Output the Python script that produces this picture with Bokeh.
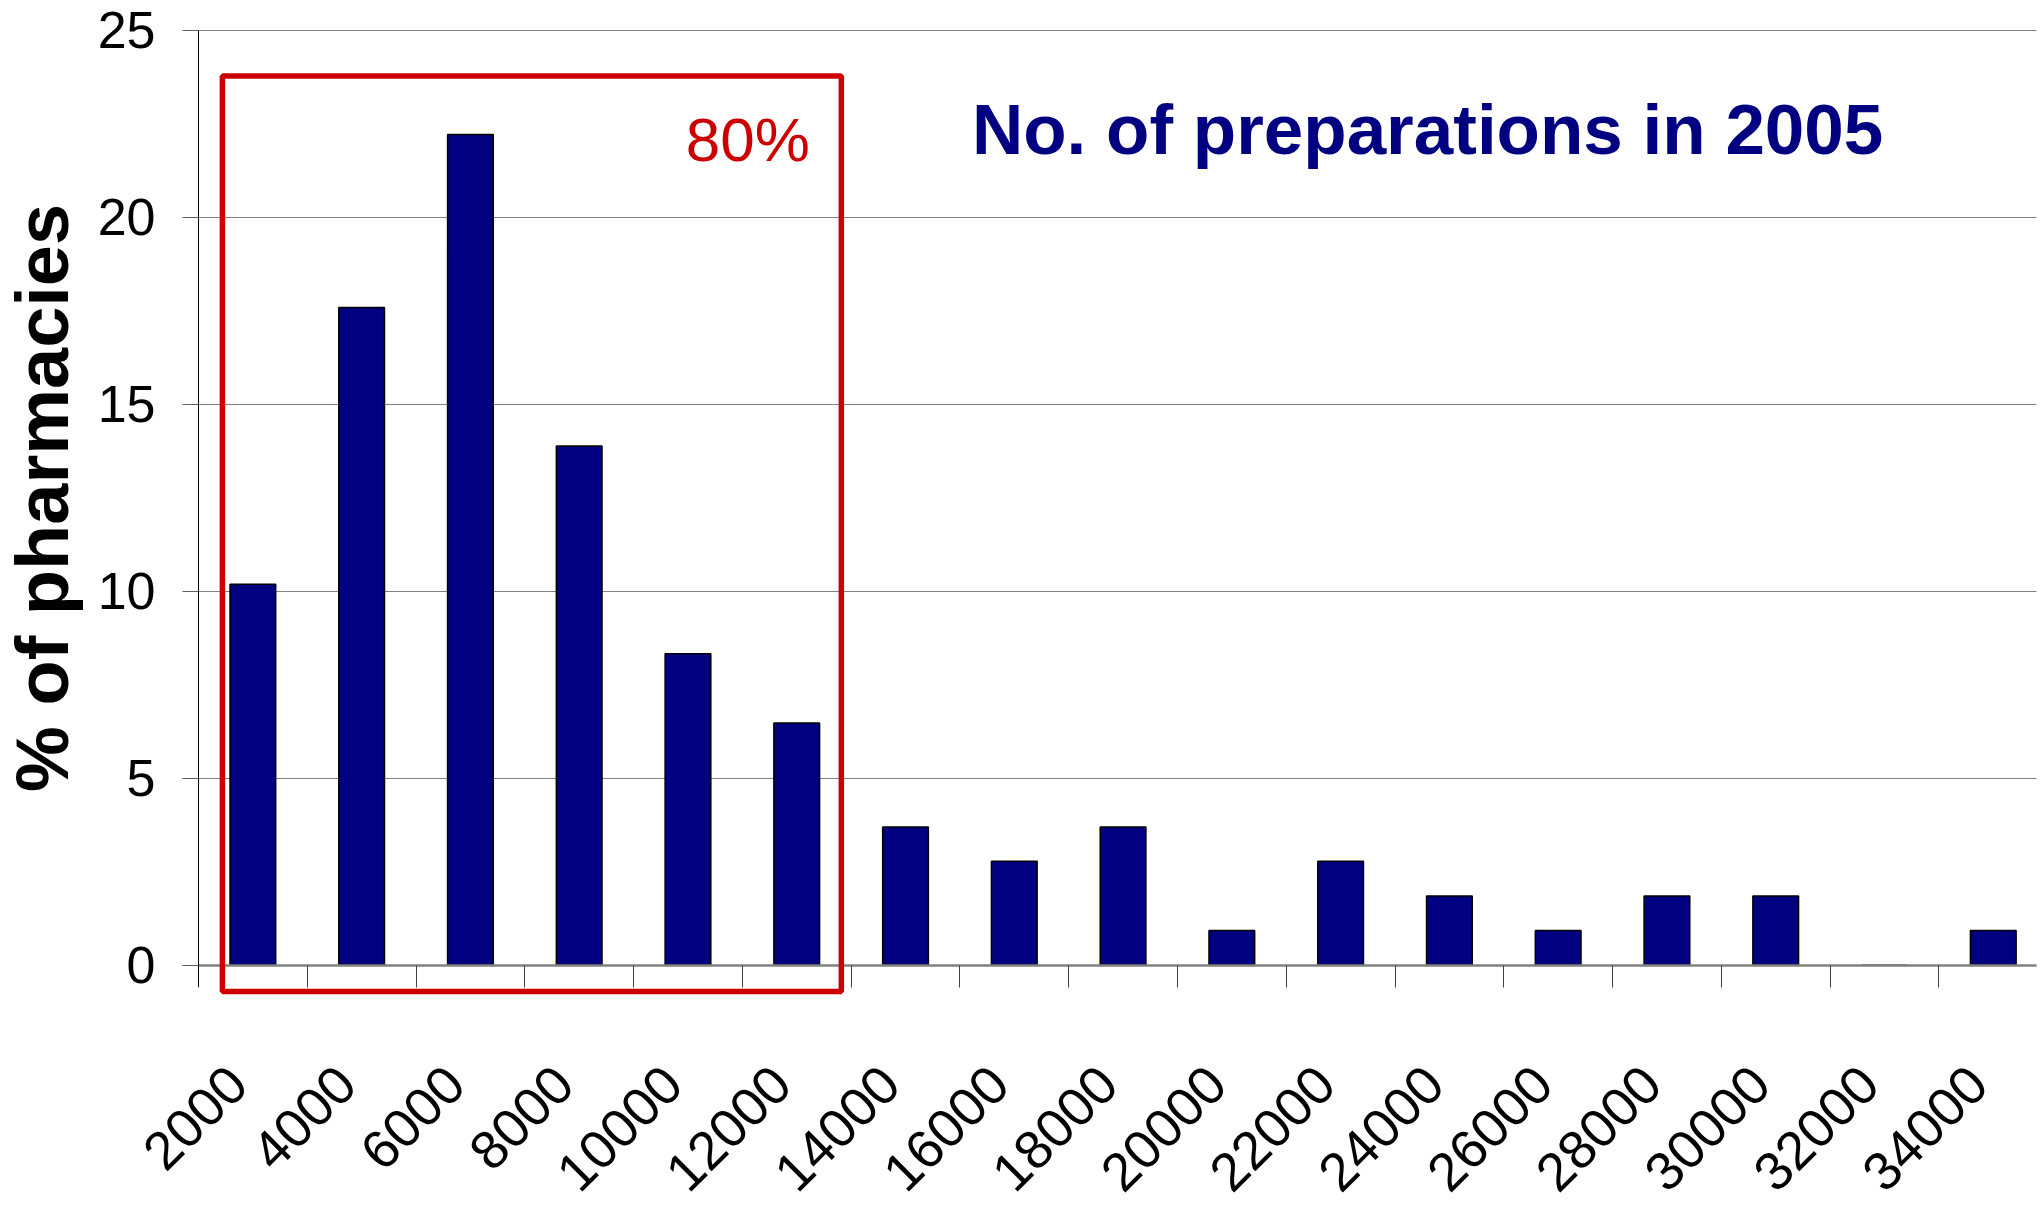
import math
from bokeh.plotting import figure
from bokeh.models import (Range1d, FixedTicker, BoxAnnotation, Label, ColumnDataSource,
                          CustomJSTickFormatter)
from bokeh.embed import file_html
from bokeh.resources import INLINE

# ---- data ----
categories = ["2000", "4000", "6000", "8000", "10000", "12000", "14000", "16000",
              "18000", "20000", "22000", "24000", "26000", "28000", "30000", "32000", "34000"]
pct_pharmacies = [10.19, 17.59, 22.22, 13.89, 8.33, 6.48, 3.70, 2.78,
                  3.70, 0.93, 2.78, 1.85, 0.93, 1.85, 1.85, 0.0, 0.93]
y_ticks = [0, 5, 10, 15, 20, 25]
highlight_first, highlight_last = 0, 5
highlight_text = "80%"
title_text = "No. of preparations in 2005"
y_label = "% of pharmacies"

idx = list(range(len(categories)))
src = ColumnDataSource(dict(x=idx, top=pct_pharmacies, cat=categories))

SANS = "Liberation Sans"
LABEL_SHIFT = 0.14  # rotated labels end slightly left of the category centre
X_LEFT = -0.5                       # left edge of the category area (y axis position)
X_RIGHT = len(categories) - 0.602   # right end of the drawn axis / grid lines

# the frame covers the whole canvas; both axes are pinned inside it
p = figure(width=2044, height=1211, output_backend="svg", toolbar_location=None,
           x_range=Range1d(X_LEFT - 1.82, len(categories) - 0.529),
           y_range=Range1d(-6.586, 25.802),
           min_border_left=0, min_border_right=0, min_border_top=0, min_border_bottom=0)
p.outline_line_color = None
p.background_fill_color = "white"

# horizontal grid lines, limited to the category area
grid = p.ygrid[0]
grid.ticker = FixedTicker(ticks=y_ticks)
grid.grid_line_color = "#808080"
grid.grid_line_width = 1
if hasattr(grid, "cross_bounds"):
    grid.cross_bounds = (X_LEFT, X_RIGHT)
else:
    grid.grid_line_color = None
    p.segment(x0=[X_LEFT] * len(y_ticks), x1=[X_RIGHT] * len(y_ticks), y0=y_ticks,
              y1=y_ticks, line_color="#808080", line_width=1)
p.xgrid.grid_line_color = None

p.vbar(x="x", top="top", bottom=0, width=0.42, source=src, fill_color="#000080",
       line_color="black", line_width=1.5)

# x axis at y = 0: labels near centres, tick marks at category boundaries
p.xaxis.fixed_location = 0
p.xaxis.bounds = (X_LEFT, X_RIGHT)
p.xaxis.ticker = FixedTicker(ticks=[i - LABEL_SHIFT for i in idx],
                             minor_ticks=[i - 0.5 for i in idx])
p.xaxis.formatter = CustomJSTickFormatter(args=dict(cats=categories),
                                          code="return cats[Math.round(tick + 0.2)];")
p.xaxis.major_label_orientation = math.pi / 4
p.xaxis.major_label_text_font = SANS
p.xaxis.major_label_text_font_size = "54px"
p.xaxis.major_label_text_color = "black"
p.xaxis.major_label_standoff = 88
p.xaxis.major_tick_out = 0
p.xaxis.major_tick_in = 0
p.xaxis.minor_tick_out = 22
p.xaxis.minor_tick_in = 0
p.xaxis.minor_tick_line_color = "#404040"
p.xaxis.axis_line_color = "#808080"
p.xaxis.axis_line_width = 2.5

# y axis at the left edge of the category area
p.yaxis.fixed_location = X_LEFT
p.yaxis.bounds = (-0.57, 25)
p.yaxis.ticker = FixedTicker(ticks=y_ticks)
p.yaxis.major_label_text_font = SANS
p.yaxis.major_label_text_font_size = "52px"
p.yaxis.major_label_text_color = "black"
p.yaxis.major_label_standoff = 27
p.yaxis.major_tick_out = 16
p.yaxis.major_tick_in = 0
p.yaxis.major_tick_line_color = "#606060"
p.yaxis.minor_tick_line_color = None
p.yaxis.axis_line_color = "black"
p.yaxis.axis_line_width = 1

# y axis title, centred on the 0..25 axis
p.add_layout(Label(x=X_LEFT - 1.434, y=(y_ticks[0] + y_ticks[-1]) / 2, text=y_label,
                   angle=math.pi / 2, text_font=SANS, text_font_style="bold",
                   text_font_size="74px", text_color="black",
                   text_align="center", text_baseline="middle"))

# highlight box around the first categories (80 % of pharmacies)
box = BoxAnnotation(left=highlight_first - 0.28, right=highlight_last + 0.41,
                    bottom=-0.7, top=23.78, fill_alpha=0, line_color="#cc0000",
                    line_alpha=1.0, line_width=5.5)
p.add_layout(box)

p.add_layout(Label(x=highlight_last - 0.45, y=21.16, text=highlight_text,
                   text_font=SANS, text_font_size="62px", text_color="#cc0000",
                   text_baseline="bottom", text_align="center"))

p.add_layout(Label(x=10.80, y=21.29, text=title_text,
                   text_font=SANS, text_font_style="bold", text_font_size="71px",
                   text_color="#000080", text_baseline="bottom", text_align="center"))

open("out.html", "w").write(file_html(p, INLINE))
